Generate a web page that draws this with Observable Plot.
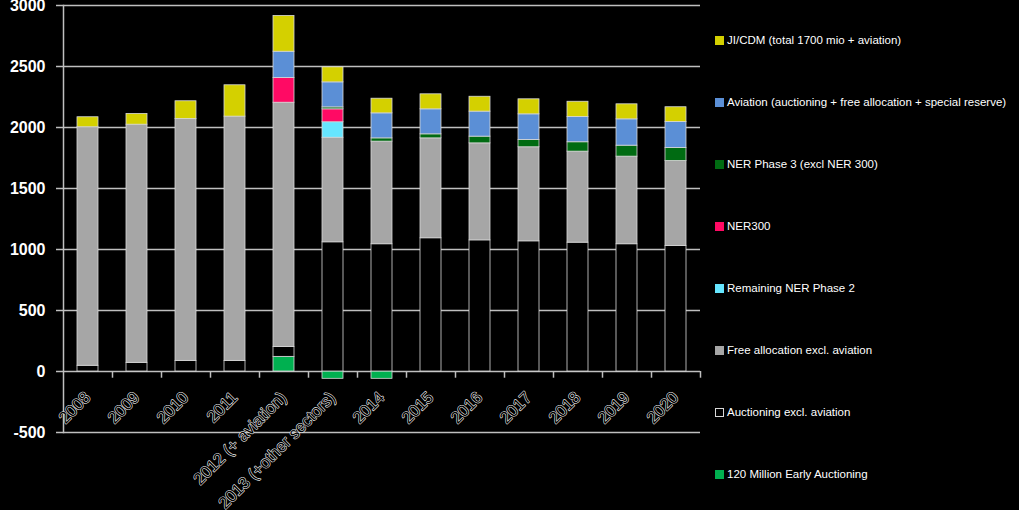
<!DOCTYPE html>
<html>
<head>
<meta charset="utf-8">
<script src="https://cdn.jsdelivr.net/npm/d3@7"></script>
<script src="https://cdn.jsdelivr.net/npm/@observablehq/plot@0.6"></script>
<style>
  html, body { margin: 0; padding: 0; background: #000; }
  #wrap { position: relative; width: 1019px; height: 510px; overflow: hidden; background: #000; }
  #legend { position: absolute; left: 0; top: 0; width: 1019px; height: 510px; pointer-events: none; }
  .item { position: absolute; left: 715px; display: flex; align-items: center; font-family: "Liberation Sans", Arial, sans-serif; font-size: 11.5px; color: #fff; white-space: nowrap; }
  .sw { width: 9px; height: 9px; margin-right: 3px; box-sizing: border-box; }
</style>
</head>
<body>
<div id="wrap"><div id="chart"></div><div id="legend"></div></div>
<script>
// ---- Data (million allowances) ----
const years = ["2008","2009","2010","2011","2012 (+ aviation)","2013 (+other sectors)","2014","2015","2016","2017","2018","2019","2020"];
const earlyAuctioning = [0, 0, 0, 0, 120, -60, -60, 0, 0, 0, 0, 0, 0];
const auctioning      = [47, 71, 87, 87, 80, 1059, 1043, 1092, 1075, 1067, 1056, 1043, 1029];
const freeAllocation  = [1955, 1952, 1983, 2002, 2003, 857, 841, 819, 795, 771, 746, 718, 696];
const remainingNER2   = [0, 0, 0, 0, 0, 127, 0, 0, 0, 0, 0, 0, 0];
const ner300          = [0, 0, 0, 0, 203, 106, 0, 0, 0, 0, 0, 0, 0];
const nerPhase3       = [0, 0, 0, 0, 0, 16, 27, 33, 55, 60, 77, 90, 107];
const aviation        = [0, 0, 0, 0, 215, 205, 205, 205, 205, 210, 207, 216, 213];
const jiCdm           = [82, 88, 145, 257, 293, 123, 120, 123, 122, 123, 125, 123, 121];

// stacking order bottom -> top
const seriesNames = [
  "120 Million Early Auctioning",
  "Auctioning excl. aviation",
  "Free allocation excl. aviation",
  "Remaining NER Phase 2",
  "NER300",
  "NER Phase 3 (excl NER 300)",
  "Aviation (auctioning + free allocation + special reserve)",
  "JI/CDM (total 1700 mio + aviation)"
];
const seriesValues = [earlyAuctioning, auctioning, freeAllocation, remainingNER2, ner300, nerPhase3, aviation, jiCdm];
const seriesColors = ["#00b050", "#000000", "#a6a6a6", "#66e6ff", "#ff0a64", "#006b12", "#5b8fd6", "#d4d000"];
const yTicks = [-500, 0, 500, 1000, 1500, 2000, 2500, 3000];

const rows = [];
seriesNames.forEach((s, i) => {
  years.forEach((y, j) => {
    const v = seriesValues[i][j];
    if (v !== 0) rows.push({year: y, series: s, value: v});
  });
});

const grid = "#bfbfbf";
const chart = Plot.plot({
  width: 1019,
  height: 510,
  marginLeft: 63,
  marginRight: 319,
  marginTop: 5,
  marginBottom: 78,
  style: {background: "#000", color: "#fff", fontFamily: "'Liberation Sans', Arial, sans-serif"},
  x: {domain: years, paddingInner: 0.57, paddingOuter: 0.285, axis: null},
  y: {domain: [-500, 3000], axis: null},
  color: {domain: seriesNames, range: seriesColors},
  marks: [
    Plot.gridY(yTicks, {stroke: grid, strokeOpacity: 1, strokeWidth: 1.5}),
    Plot.frame({anchor: "left", stroke: grid, strokeWidth: 1.5}),
    Plot.axisY(yTicks, {
      tickSize: 7, tickPadding: 11, stroke: grid, strokeWidth: 1.5,
      fill: "#fff", fontSize: 16, fontWeight: "bold",
      tickFormat: d => String(d), label: null
    }),
    Plot.rectY(rows, Plot.stackY({
      x: "year", y: "value", fill: "series", order: seriesNames,
      stroke: "#d9d9d9", strokeWidth: 0.8
    })),
    Plot.ruleX(years, {x: d => d, y1: 0, y2: -55, dx: 24.5, stroke: grid, strokeWidth: 1.5}),
    Plot.text(years, {
      x: d => d, y: 0, text: d => d, rotate: -45,
      textAnchor: "end", lineAnchor: "bottom", dx: 3.5, dy: 27,
      fontSize: 16.5, fill: "#000", stroke: "#f2f2f2", strokeWidth: 1.1
    })
  ]
});
document.getElementById("chart").appendChild(chart);

// legend (top to bottom = reverse stacking order)
const legend = document.getElementById("legend");
const order = seriesNames.map((_, i) => i).reverse();
order.forEach((i, k) => {
  const item = document.createElement("div");
  item.className = "item";
  item.style.top = (41 + k * 62 - 7) + "px";
  const sw = document.createElement("div");
  sw.className = "sw";
  sw.style.background = seriesColors[i];
  if (seriesColors[i] === "#000000") sw.style.border = "1px solid #d9d9d9";
  const t = document.createElement("span");
  t.textContent = seriesNames[i];
  item.appendChild(sw);
  item.appendChild(t);
  legend.appendChild(item);
});
</script>
</body>
</html>
